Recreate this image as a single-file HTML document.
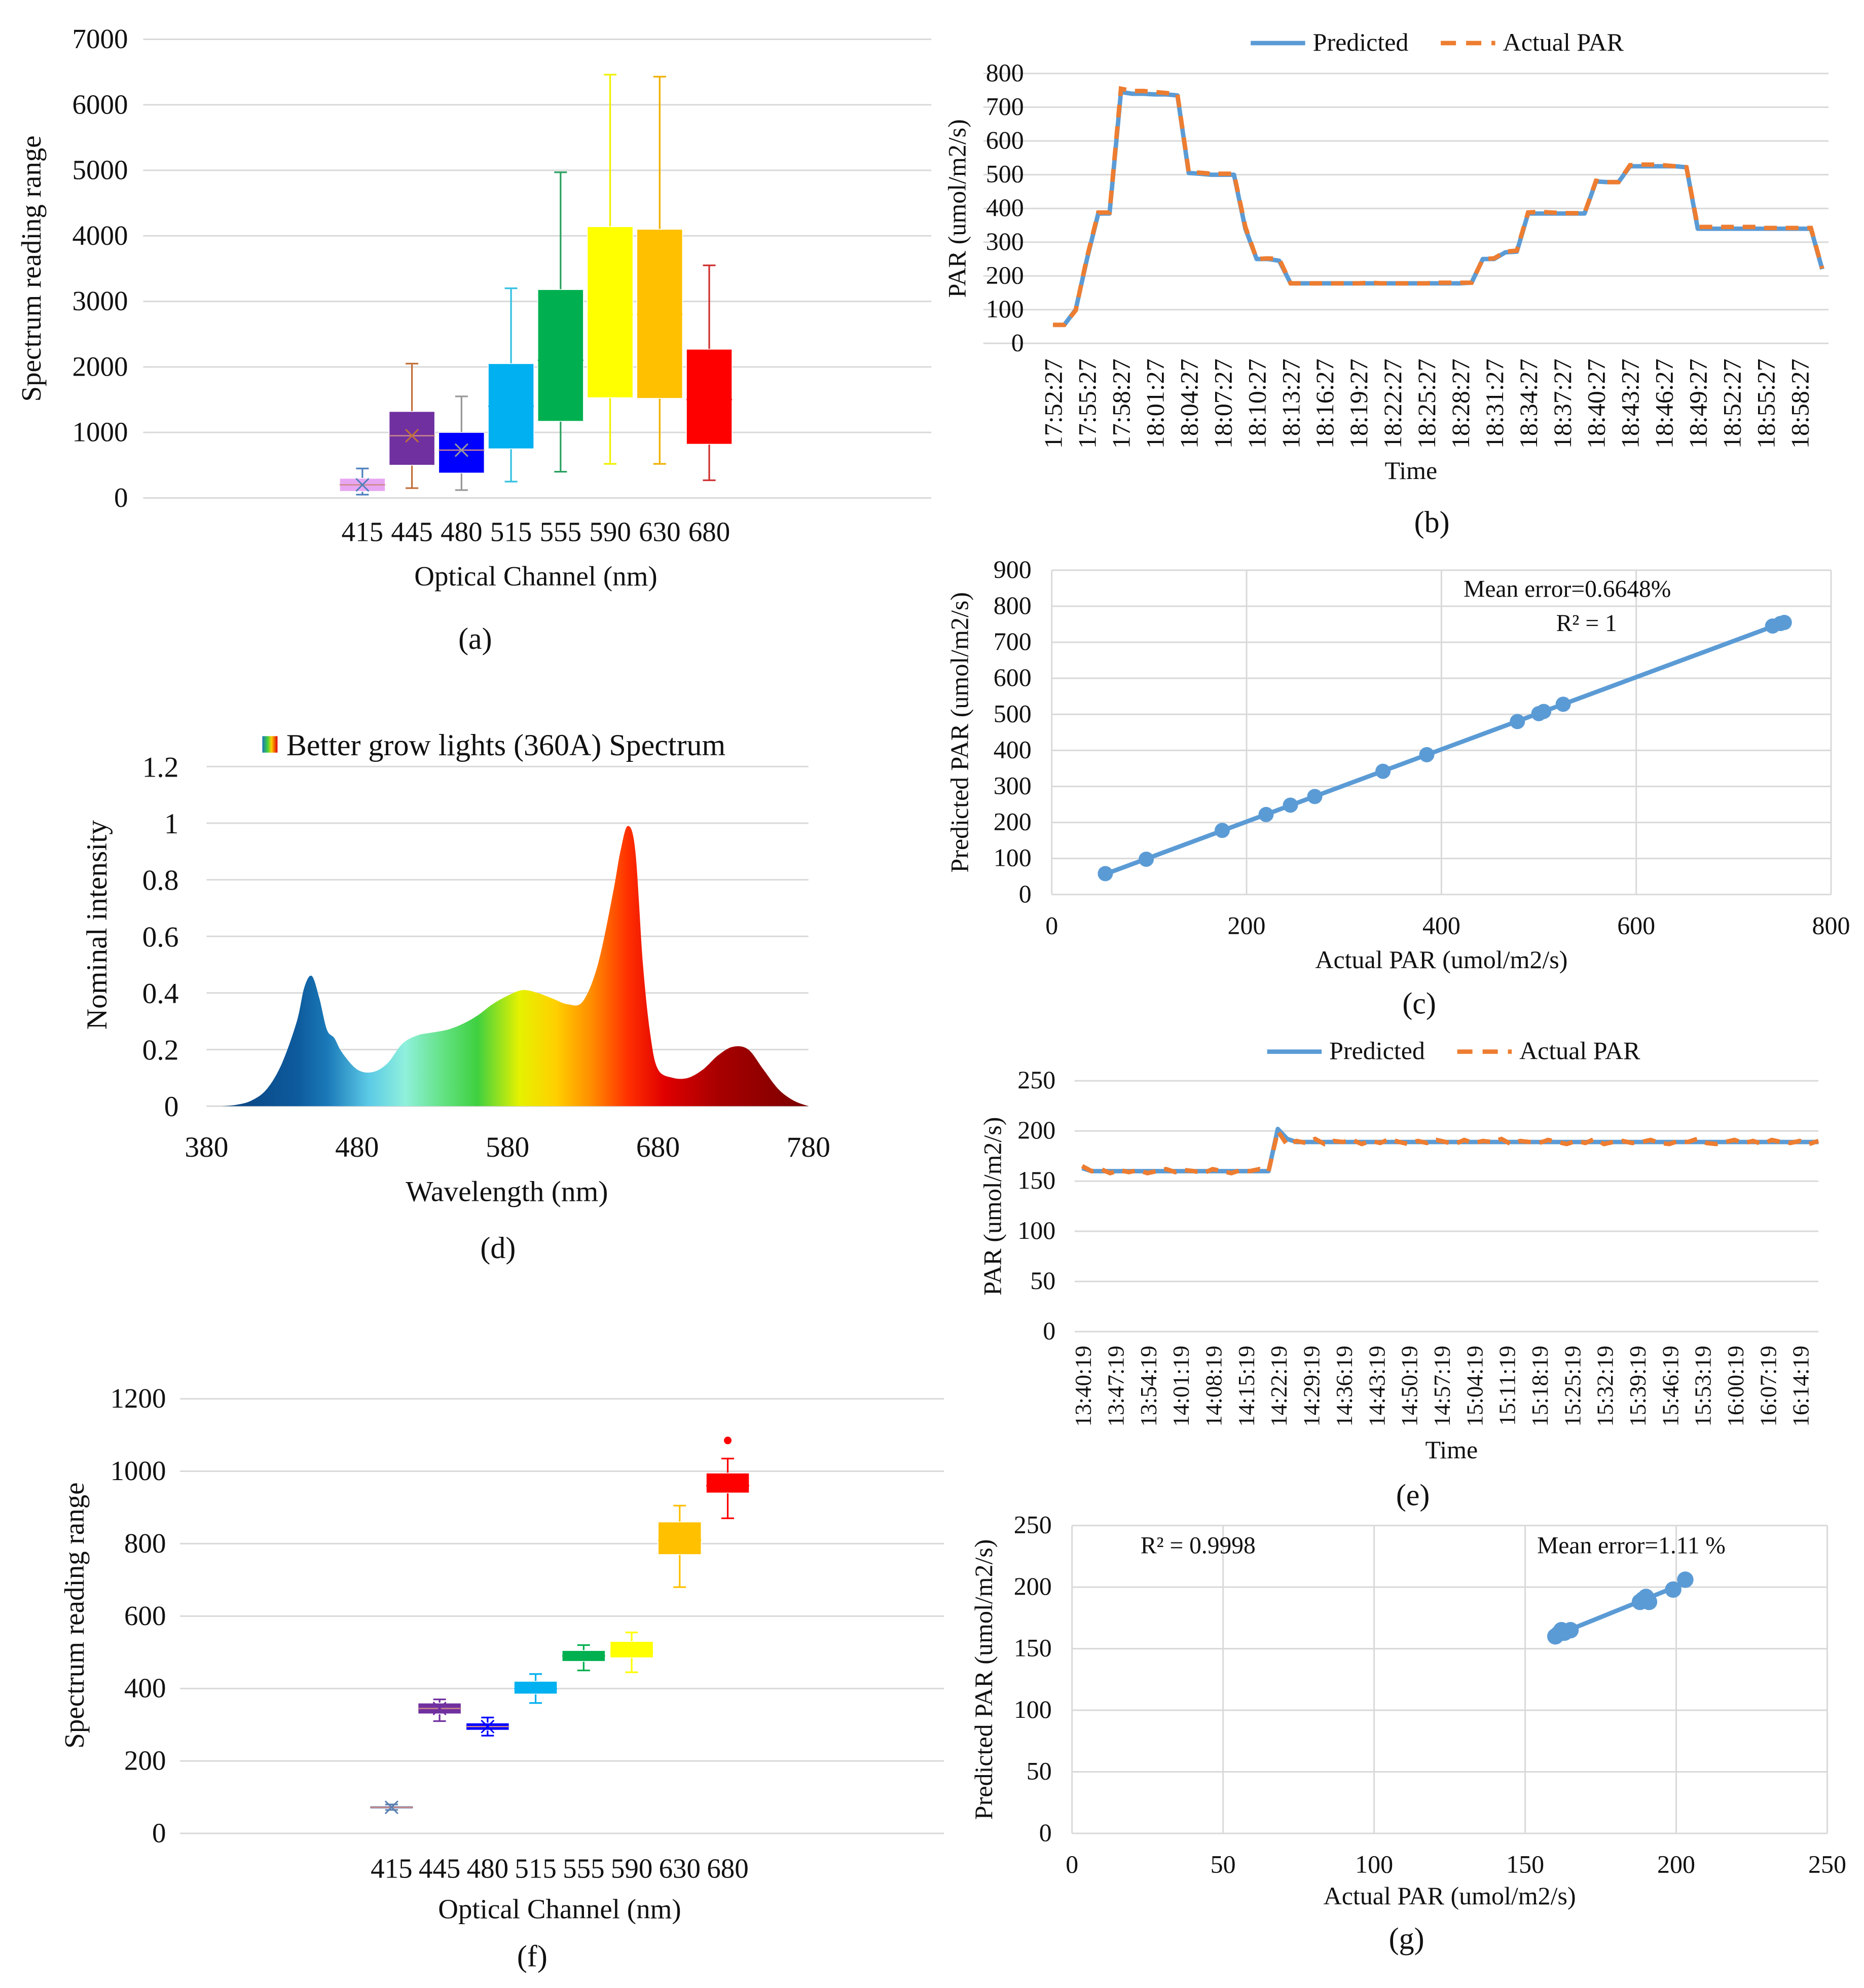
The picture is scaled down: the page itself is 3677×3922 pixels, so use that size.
<!DOCTYPE html>
<html><head><meta charset="utf-8"><style>
html,body{margin:0;padding:0;background:#fff}
svg{display:block}
svg text{font-family:"Liberation Serif","Times New Roman","DejaVu Serif",serif;fill:#111}
</style></head><body>
<svg id="fig" width="3677" height="3922" viewBox="0 0 1471 1569" font-family="Liberation Serif, serif" xmlns="http://www.w3.org/2000/svg">
<defs>
<linearGradient id="specGrad" x1="163" x2="638" y1="0" y2="0" gradientUnits="userSpaceOnUse">
<stop offset="0" stop-color="#0b3d7a"/><stop offset="0.15" stop-color="#0d5a9c"/><stop offset="0.2" stop-color="#1a78b8"/>
<stop offset="0.27" stop-color="#5ccbe6"/><stop offset="0.33" stop-color="#8ff0dc"/><stop offset="0.4" stop-color="#5ee07a"/>
<stop offset="0.45" stop-color="#3fd040"/><stop offset="0.52" stop-color="#e6f200"/><stop offset="0.58" stop-color="#ffd000"/>
<stop offset="0.64" stop-color="#ff8c00"/><stop offset="0.7" stop-color="#ff3000"/><stop offset="0.76" stop-color="#e00000"/>
<stop offset="0.85" stop-color="#a80000"/><stop offset="1" stop-color="#7a0000"/>
</linearGradient>
<linearGradient id="iconGrad" x1="0" x2="1"><stop offset="0" stop-color="#1a78b8"/><stop offset="0.35" stop-color="#3fd040"/><stop offset="0.6" stop-color="#ffd000"/><stop offset="1" stop-color="#e00000"/></linearGradient>
</defs>
</svg>
<script>
// ---- Chart (a) data ----
const aCats = ['415','445','480','515','555','590','630','680'];
const aMin = [50,150,120,250,400,520,520,270];
const aQ1 = [100,500,380,750,1170,1530,1520,820];
const aMed = [200,950,730,1400,2100,2800,2800,1500];
const aQ3 = [300,1320,1000,2050,3180,4140,4100,2270];
const aMax = [450,2050,1550,3200,4970,6460,6430,3550];
const aMean = [200,950,730,null,null,null,null,null];
const aColors = ['#e8a6f2','#7030a0','#0000ff','#00b0f0','#00b050','#ffff00','#ffc000','#ff0000'];
const aWhisker = ['#4f81bd','#c0703a','#999999','#33c0e0','#2aa060','#f0f000','#f0b000','#d03030'];
const aTicks = [0,1000,2000,3000,4000,5000,6000,7000];
// ---- Chart (f) data ----
const fCats = ['415','445','480','515','555','590','630','680'];
const fMin = [65,310,270,360,450,445,680,870];
const fQ1 = [68,330,285,385,475,485,770,940];
const fMed = [72,345,295,400,490,500,810,960];
const fQ3 = [76,360,305,420,505,530,860,995];
const fMax = [80,370,320,440,520,555,905,1035];
const fOut = [null,null,null,null,null,null,null,1085];
const fColors = ['#5b7fb0','#7030a0','#0000ff','#00b0f0','#00b050','#ffff00','#ffc000','#ff0000'];
const fTicks = [0,200,400,600,800,1000,1200];
// ---- Chart (b) data (per minute) ----
const bLabels = ['17:52:27','17:55:27','17:58:27','18:01:27','18:04:27','18:07:27','18:10:27','18:13:27','18:16:27','18:19:27','18:22:27','18:25:27','18:28:27','18:31:27','18:34:27','18:37:27','18:40:27','18:43:27','18:46:27','18:49:27','18:52:27','18:55:27','18:58:27'];
const bPred = [55,55,100,250,385,385,745,740,740,738,738,735,505,503,500,500,500,340,250,250,245,178,178,178,178,178,178,178,178,178,178,178,178,178,178,178,178,180,250,250,270,272,385,385,385,385,385,385,480,478,478,525,525,525,525,525,522,340,340,340,340,340,340,340,340,340,340,340,220];
const bAct = [55,55,98,255,388,388,755,748,748,745,742,738,508,506,503,503,503,345,250,252,250,178,178,178,178,178,178,178,180,178,178,178,178,178,180,180,180,180,250,252,272,275,388,390,388,386,386,386,482,478,478,528,530,530,528,525,522,345,345,345,345,345,345,342,342,342,342,342,222];
const bTicks = [0,100,200,300,400,500,600,700,800];
// ---- Chart (c) data ----
const cX = [55,97,175,220,245,270,340,385,478,500,505,525,740,748,752];
const cY = [58,98,178,222,248,272,342,388,480,502,508,528,745,752,755];
const cYTicks = [0,100,200,300,400,500,600,700,800,900];
const cXTicks = [0,200,400,600,800];
// ---- Chart (d) data ----
const dWave = [380,390,400,410,420,430,440,445,450,455,460,465,470,480,490,500,510,520,530,540,550,560,570,580,590,600,610,620,630,640,650,655,660,665,670,675,680,690,700,710,720,730,740,750,760,770,780];
const dInt = [0,0,0.005,0.02,0.06,0.15,0.3,0.42,0.46,0.38,0.27,0.24,0.19,0.13,0.12,0.15,0.22,0.25,0.26,0.27,0.29,0.32,0.36,0.39,0.41,0.40,0.38,0.36,0.37,0.5,0.75,0.9,0.99,0.9,0.5,0.25,0.13,0.1,0.1,0.13,0.18,0.21,0.2,0.13,0.06,0.02,0];
const dYTicks = [0,0.2,0.4,0.6,0.8,1,1.2];
const dXTicks = [380,480,580,680,780];
// ---- Chart (e) data (every 2 min) ----
const eLabels = ['13:40:19','13:47:19','13:54:19','14:01:19','14:08:19','14:15:19','14:22:19','14:29:19','14:36:19','14:43:19','14:50:19','14:57:19','15:04:19','15:11:19','15:18:19','15:25:19','15:32:19','15:39:19','15:46:19','15:53:19','16:00:19','16:07:19','16:14:19'];
const ePred = [163,160,160,160,160,160,160,160,160,160,160,160,160,160,160,160,160,160,160,160,160,202,192,189,189,189,189,189,189,189,189,189,189,189,189,189,189,189,189,189,189,189,189,189,189,189,189,189,189,189,189,189,189,189,189,189,189,189,189,189,189,189,189,189,189,189,189,189,189,189,189,189,189,189,189,189,189,189,189,189];
const eAct = [165,160,162,158,161,159,161,158,160,162,159,161,160,158,162,160,158,161,160,162,160,200,186,190,188,192,187,190,189,191,187,190,188,192,189,187,190,188,191,189,187,191,188,190,189,192,187,190,189,188,191,189,187,190,188,192,187,189,190,188,189,191,188,187,190,189,192,188,187,189,191,188,190,187,191,189,188,190,187,190];
const eTicks = [0,50,100,150,200,250];
// ---- Chart (g) data ----
const gX = [160,161,162,163,165,188,189,190,191,199,203];
const gY = [160,162,165,163,165,188,190,192,188,198,206];
const gTicks = [0,50,100,150,200,250];

const svg = document.getElementById('fig');
const NS = 'http://www.w3.org/2000/svg';
const FONT = '"Liberation Serif", "Times New Roman", serif';
function mk(tag, attrs, parent){const e=document.createElementNS(NS,tag);for(const k in attrs)e.setAttribute(k,attrs[k]);(parent||svg).appendChild(e);return e;}
function txt(x,y,s,size,anchor,parent,rot){const t=mk('text',{x:x,y:y,'font-size':size,'text-anchor':anchor||'middle'},parent);t.style.fontFamily=FONT;if(rot)t.setAttribute('transform','rotate(-90 '+x+' '+y+')');t.textContent=s;return t;}
function grp(name){const g=mk('g',{});return g;}
function lin(a0,a1,p0,p1){return v=>p0+(v-a0)/(a1-a0)*(p1-p0);}

function boxChart(pfx,cats,mn,q1,md,q3,mx,cols,wcols,ticks,L,R,T,B,x0,dx,bw,tickX,ytitleX,ytitleY,labY,titleY,capY,cap,meanArr,outArr){
  const g=grp(pfx+'-chart');
  const y=lin(ticks[0],ticks[ticks.length-1],B,T);
  ticks.forEach(v=>{const l=mk('line',{x1:L,x2:R,y1:y(v),y2:y(v),stroke:'#d9d9d9','stroke-width':1.2},g);
    const t=txt(tickX,y(v)+7,String(v),22,'end',g);});
  cats.forEach((c,i)=>{const cx=x0+i*dx;
    const bg=mk('g',{},g);
    mk('line',{x1:cx,x2:cx,y1:y(mx[i]),y2:y(mn[i]),stroke:wcols[i],'stroke-width':1.3},bg);
    mk('line',{x1:cx-5,x2:cx+5,y1:y(mx[i]),y2:y(mx[i]),stroke:wcols[i],'stroke-width':1.3},bg);
    mk('line',{x1:cx-5,x2:cx+5,y1:y(mn[i]),y2:y(mn[i]),stroke:wcols[i],'stroke-width':1.3},bg);
    mk('rect',{x:cx-bw/2,y:y(q3[i]),width:bw,height:Math.max(1,y(q1[i])-y(q3[i])),fill:cols[i],stroke:'#ffffff','stroke-width':0.6},bg);
    mk('line',{x1:cx-bw/2,x2:cx+bw/2,y1:y(md[i]),y2:y(md[i]),stroke:(i<3?'#c88':cols[i]),'stroke-width':1},bg);
    if(meanArr&&meanArr[i]!=null){const my=y(meanArr[i]);mk('path',{d:`M${cx-5} ${my-5}L${cx+5} ${my+5}M${cx-5} ${my+5}L${cx+5} ${my-5}`,stroke:wcols[i],'stroke-width':1.2},bg);}
    if(outArr&&outArr[i]!=null){mk('circle',{cx:cx,cy:y(outArr[i]),r:3,fill:cols[i]},bg);}
    const t=txt(cx,labY,c,22,'middle',g);
  });
  const yt=txt(ytitleX,ytitleY,'Spectrum reading range',22,'middle',g,true);
  const xt=txt(x0+3.5*dx,titleY,'Optical Channel (nm)',22,'middle',g);
  const cp=txt(cap[0],capY,cap[1],24,'middle',g);
}
boxChart('a',aCats,aMin,aQ1,aMed,aQ3,aMax,aColors,aWhisker,aTicks,113,735,31,393,286,39.1,36,101,32,212,427,462,512,[375,'(a)'],aMean,null);
boxChart('f',fCats,fMin,fQ1,fMed,fQ3,fMax,fColors,fColors,fTicks,142,745,1104,1447,309,37.9,34,131,66,1275,1482,1514,1552,[420,'(f)'],[72,345,295,null,null,null,null,null],fOut);

function legend(g,x1,y0){
  const l1=mk('line',{x1:x1,x2:x1+43,y1:y0,y2:y0,stroke:'#5b9bd5','stroke-width':3.5},g);
  const t1=txt(x1+49,y0+6,'Predicted',20,'start',g);
  const l2=mk('line',{x1:x1+150,x2:x1+193,y1:y0,y2:y0,stroke:'#ed7d31','stroke-width':3.5,'stroke-dasharray':'12 8'},g);
  const t2=txt(x1+199,y0+6,'Actual PAR',20,'start',g);
}
function lineChart(pfx,labels,labStep,pred,act,ticks,L,R,T,B,x0,x1,tickX,yTitleX,labTop,timeY,cap,capY,legX,legY,lblSize){
  const g=grp(pfx+'-chart');
  const y=lin(ticks[0],ticks[ticks.length-1],B,T);
  const x=lin(0,pred.length-1,x0,x1);
  ticks.forEach(v=>{const l=mk('line',{x1:L,x2:R,y1:y(v),y2:y(v),stroke:'#d9d9d9','stroke-width':1.2},g);
    const t=txt(tickX,y(v)+6,String(v),20,'end',g);});
  labels.forEach((s,i)=>{const lx=x(i*labStep)+7;const t=txt(lx,labTop,s,lblSize,'end',g,true);});
  const p1=mk('path',{d:pred.map((v,i)=>(i?'L':'M')+x(i).toFixed(1)+' '+y(v).toFixed(1)).join(''),fill:'none',stroke:'#5b9bd5','stroke-width':3.5,'stroke-linejoin':'round'},g);
  
  const p2=mk('path',{d:act.map((v,i)=>(i?'L':'M')+x(i).toFixed(1)+' '+y(v).toFixed(1)).join(''),fill:'none',stroke:'#ed7d31','stroke-width':3.5,'stroke-dasharray':'10 7'},g);
  
  const yt=txt(yTitleX,(T+B)/2,'PAR (umol/m2/s)',20,'middle',g,true);
  const xt=txt((L+R)/2+4,timeY,'Time',20,'middle',g);
  const cp=txt(cap[0],capY,cap[1],24,'middle',g);
  legend(g,legX,legY);
}
lineChart('b',bLabels,3,bPred,bAct,bTicks,776,1443,58,271,831,1438,808,762,283,378,[1130,'(b)'],420,987,34,20);
lineChart('e',eLabels,3.5,ePred,eAct,eTicks,848,1435,853,1051,854,1435,833,790,1062,1151,[1115,'(e)'],1188,1000,830,18);

function scatter(pfx,xs,ys,xT,yT,L,R,T,B,yTickX,xLabY,yTitleX,xTitleY,cap,capY,notes,rP){
  const g=grp(pfx+'-chart');
  const x=lin(xT[0],xT[xT.length-1],L,R), y=lin(yT[0],yT[yT.length-1],B,T);
  yT.forEach(v=>{const l=mk('line',{x1:L,x2:R,y1:y(v),y2:y(v),stroke:'#d9d9d9','stroke-width':1.2},g);
    const t=txt(yTickX,y(v)+6,String(v),20,'end',g);});
  xT.forEach(v=>{const l=mk('line',{x1:x(v),x2:x(v),y1:T,y2:B,stroke:'#d9d9d9','stroke-width':1.2},g);
    const t=txt(x(v),xLabY,String(v),20,'middle',g);});
  const n=xs.length;let mx=0,my=0;xs.forEach((v,i)=>{mx+=v;my+=ys[i];});mx/=n;my/=n;
  let sxy=0,sxx=0;xs.forEach((v,i)=>{sxy+=(v-mx)*(ys[i]-my);sxx+=(v-mx)*(v-mx);});
  const sl=sxy/sxx,ic=my-sl*mx;const xa=Math.min(...xs),xb=Math.max(...xs);
  const tl=mk('line',{x1:x(xa),y1:y(sl*xa+ic),x2:x(xb),y2:y(sl*xb+ic),stroke:'#5b9bd5','stroke-width':3.5},g);
  xs.forEach((v,i)=>{const c=mk('circle',{cx:x(v),cy:y(ys[i]),r:rP,fill:'#5b9bd5'},g);});
  notes.forEach(nt=>{const t=txt(nt[0],nt[1],nt[2],19,'start',g);});
  const yt=txt(yTitleX,(T+B)/2,'Predicted PAR (umol/m2/s)',20,'middle',g,true);
  const xt=txt((L+R)/2,xTitleY,'Actual PAR (umol/m2/s)',20,'middle',g);
  const cp=txt(cap[0],capY,cap[1],24,'middle',g);
}
scatter('c',cX,cY,cXTicks,cYTicks,830,1445,450,706,814,737,764,764,[1120,'(c)'],800,[[1155,471,'Mean error=0.6648%'],[1228,498,'R² = 1']],6);
scatter('g',gX,gY,gTicks,gTicks,846,1442,1204,1447,830,1478,783,1503,[1110,'(g)'],1538,[[900,1226,'R² = 0.9998'],[1213,1226,'Mean error=1.11  %']],6.5);

(function(){
  const g=grp('d-chart');
  const L=163,R=638,T=605,B=873;
  const x=lin(380,780,L,R), y=lin(0,1.2,B,T);
  dYTicks.forEach(v=>{const l=mk('line',{x1:L,x2:R,y1:y(v),y2:y(v),stroke:'#d9d9d9','stroke-width':1.2},g);
    const t=txt(141,y(v)+8,String(v),23,'end',g);});
  dXTicks.forEach(v=>{const t=txt(x(v),913,String(v),23,'middle',g);});
  const P=dWave.map((w,i)=>[x(w),y(dInt[i])]);
  let d='M'+P[0][0]+' '+y(0)+'L'+P[0][0]+' '+P[0][1];
  for(let i=0;i<P.length-1;i++){const p0=P[Math.max(0,i-1)],p1=P[i],p2=P[i+1],p3=P[Math.min(P.length-1,i+2)];
    const c1=[p1[0]+(p2[0]-p0[0])/6,p1[1]+(p2[1]-p0[1])/6],c2=[p2[0]-(p3[0]-p1[0])/6,p2[1]-(p3[1]-p1[1])/6];
    d+='C'+c1[0].toFixed(1)+' '+Math.min(B,c1[1]).toFixed(1)+' '+c2[0].toFixed(1)+' '+Math.min(B,c2[1]).toFixed(1)+' '+p2[0].toFixed(1)+' '+p2[1].toFixed(1);}
  d+='L'+P[P.length-1][0]+' '+y(0)+'Z';
  const a=mk('path',{d:d,fill:'url(#specGrad)'},g);
  const ic=mk('rect',{x:207,y:581,width:12,height:13,fill:'url(#iconGrad)'},g);
  const tt=txt(226,596,'Better grow lights (360A) Spectrum',24,'start',g);
  const yt=txt(84,730,'Nominal intensity',23,'middle',g,true);
  const xt=txt(400,948,'Wavelength (nm)',23,'middle',g);
  const cp=txt(393,993,'(d)',24,'middle',g);
})();
</script>
</body></html>
